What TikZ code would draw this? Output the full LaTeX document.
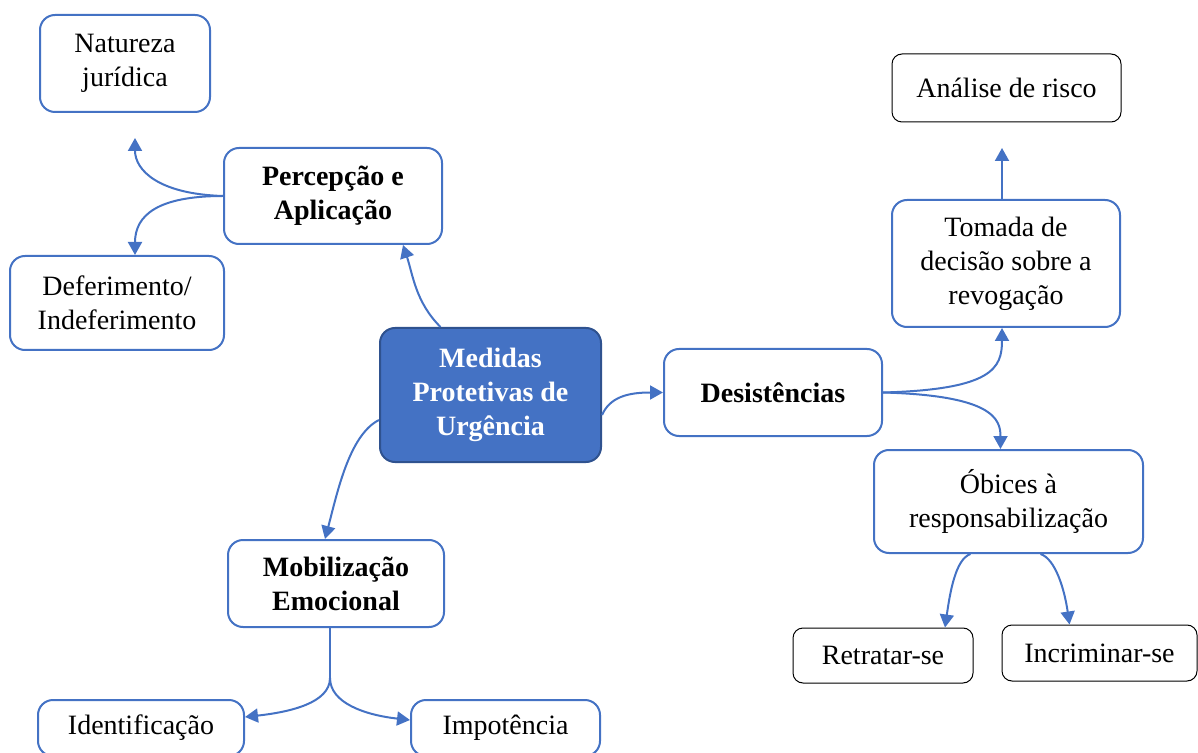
\documentclass[tikz,border=0pt]{standalone}
\usepackage{fontspec}
\setmainfont{Liberation Serif}
\usetikzlibrary{arrows.meta,calc}
\definecolor{mapblue}{HTML}{4472C4}
\definecolor{mapdark}{HTML}{2F528F}

\begin{document}
\begin{tikzpicture}[x=0.5pt,y=-0.5pt,
  txt/.style={font=\fontsize{14}{17}\selectfont},
  topic/.style={txt,draw=mapblue,line width=1pt,rounded corners=7.5pt,align=center,fill=white,inner sep=2pt},
  leaf/.style={txt,draw=black,line width=0.5pt,rounded corners=5pt,align=center,fill=white,inner sep=2pt},
  conn/.style={mapblue,line width=1pt,-{Triangle[length=6.5pt,width=7pt]}}]

  \useasboundingbox (0,0) rectangle (1198,753);

  % Central topic
  \node[topic,fill=mapblue,draw=mapdark,text=white,font=\bfseries\fontsize{14}{17}\selectfont,
    minimum width=110.5pt,minimum height=67pt] (mpu) at (490.5,395) {Medidas\\Protetivas de\\Urgência};

  % Left branches
  \node[topic,font=\bfseries\fontsize{14}{17}\selectfont,minimum width=109pt,minimum height=48pt] (perc) at (333,196) {Percepção e\\Aplicação};
  \node[topic,minimum width=85pt,minimum height=48.5pt] (natur) at (125,63.5) {Natureza\\jurídica};
  \node[topic,minimum width=107pt,minimum height=47pt] (defer) at (117,303) {Deferimento/\\Indeferimento};

  \node[topic,font=\bfseries\fontsize{14}{17}\selectfont,minimum width=108pt,minimum height=43.5pt] (mobil) at (336,583.5) {Mobilização\\Emocional};
  \node[topic,minimum width=103pt,minimum height=28pt] (ident) at (141,728) {Identificação};
  \node[topic,minimum width=94.5pt,minimum height=28pt] (impot) at (505.5,728) {Impotência};

  % Right branches
  \node[topic,font=\bfseries\fontsize{14}{17}\selectfont,minimum width=109pt,minimum height=43.5pt] (desist) at (773,392.5) {Desistências};
  \node[topic,minimum width=114pt,minimum height=63.5pt] (tomada) at (1006,263.5) {Tomada de\\decisão sobre a\\revogação};
  \node[leaf,minimum width=114.5pt,minimum height=34pt] (anal) at (1006.5,88) {Análise de risco};
  \node[topic,minimum width=134.5pt,minimum height=51.5pt] (obices) at (1008.5,501.5) {Óbices à\\responsabilização};
  \node[leaf,minimum width=90pt,minimum height=27.5pt] (retr) at (883,655.5) {Retratar-se};
  \node[leaf,minimum width=97.5pt,minimum height=28pt] (incr) at (1099.5,653) {Incriminar-se};

  % Connectors, left side
  \draw[conn] ($(mpu.north)+(-50,0)$) .. controls +(-25,-25) and +(10,30) .. ($(perc.south)+(70,0)$);
  \coordinate (naturend) at (135,138);
  \draw[conn] (perc.west) .. controls +(-65,-2) and +(0,32) .. (naturend);
  \draw[conn] (perc.west) .. controls +(-65,0) and +(0,-40) .. ($(defer.north)+(18,0)$);

  \draw[conn] ($(mpu.west)+(0,25)$) .. controls +(-30,15) and +(12,-45) .. ($(mobil.north)+(-11,0)$);
  \coordinate (split) at (330,678);
  \draw[mapblue,line width=1pt] ($(mobil.south)+(-6,0)$) -- (split);
  \draw[conn] (split) .. controls +(0,25) and +(45,-5) .. ($(ident.east)+(0,-11)$);
  \draw[conn] (split) .. controls +(0,25) and +(-45,-5) .. ($(impot.west)+(0,-8)$);

  % Connectors, right side
  \draw[conn] ($(mpu.east)+(0,20)$) .. controls +(8,-18) and +(-35,0) .. (desist.west);
  \draw[conn] (desist.east) .. controls +(110,-3) and +(0,40) .. ($(tomada.south)+(-4,0)$);
  \coordinate (analend) at (1002,148);
  \draw[conn] ($(tomada.north)+(-4,0)$) -- (analend);
  \draw[conn] (desist.east) .. controls +(110,3) and +(0,-30) .. ($(obices.north)+(-8,0)$);
  \draw[conn] ($(obices.south)+(-38,0)$) .. controls +(-15,5) and +(5,-35) .. ($(retr.north)+(62,0)$);
  \draw[conn] ($(obices.south)+(32,0)$) .. controls +(15,5) and +(-5,-35) .. ($(incr.north)+(-30,0)$);

\end{tikzpicture}
\end{document}
